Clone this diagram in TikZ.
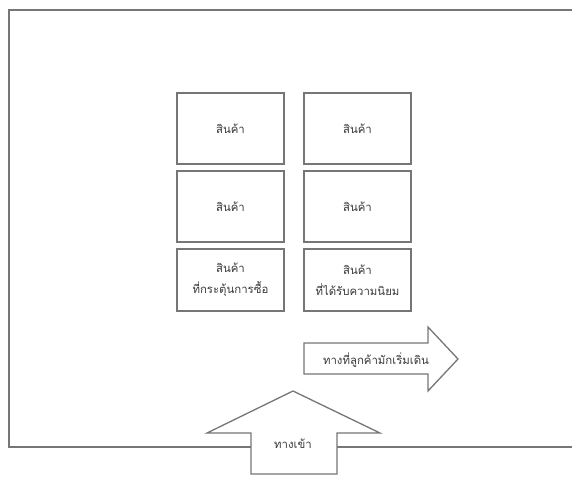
\documentclass[tikz,border=0pt]{standalone}
\usepackage{fontspec}
\newfontfamily\thaifont[Script=Thai]{Loma}
\definecolor{linegray}{HTML}{767676}
\definecolor{textgray}{HTML}{3A3A3A}
\begin{document}
\begin{tikzpicture}[x=1pt,y=-1pt,
  outline/.style={draw=linegray,line width=1.3pt},
  shelf/.style={outline,fill=white,minimum width=107pt,inner sep=0pt,align=center,
    font=\thaifont\fontsize{11.4}{21}\selectfont,text=textgray},
  lbl/.style={inner sep=0pt,align=center,font=\thaifont\fontsize{11.4}{21}\selectfont,text=textgray}]
\useasboundingbox (0,0) rectangle (572,476);
% store outline (right side runs off the picture)
\draw[outline] (572,10) -- (9,10) -- (9,447) -- (572,447);
% shelves
\node[shelf,minimum height=71pt] (s11) at (230.5,128.5) {สินค้า};
\node[shelf,minimum height=71pt] (s12) at (357.5,128.5) {สินค้า};
\node[shelf,minimum height=71pt] (s21) at (230.5,206.5) {สินค้า};
\node[shelf,minimum height=71pt] (s22) at (357.5,206.5) {สินค้า};
\node[shelf,minimum height=62pt] (s31) at (230.5,280) {สินค้า\\ที่กระตุ้นการซื้อ};
\node[shelf,minimum height=62pt] (s32) at (357.5,280) {สินค้า\\ที่ได้รับความนิยม};
% walking direction arrow
\draw[outline,fill=white,line join=miter] (304,343) -- (428,343) -- (428,327) -- (458,359)
  -- (428,391) -- (428,374) -- (304,374) -- cycle;
\node[lbl] (walk) at (376,360) {ทางที่ลูกค้ามักเริ่มเดิน};
% entrance arrow
\draw[outline,fill=white,line join=miter] (251,474) -- (251,433) -- (207,433) -- (293,391)
  -- (380,433) -- (337,433) -- (337,474) -- cycle;
\node[lbl] (entry) at (293,444) {ทางเข้า};
\end{tikzpicture}
\end{document}
